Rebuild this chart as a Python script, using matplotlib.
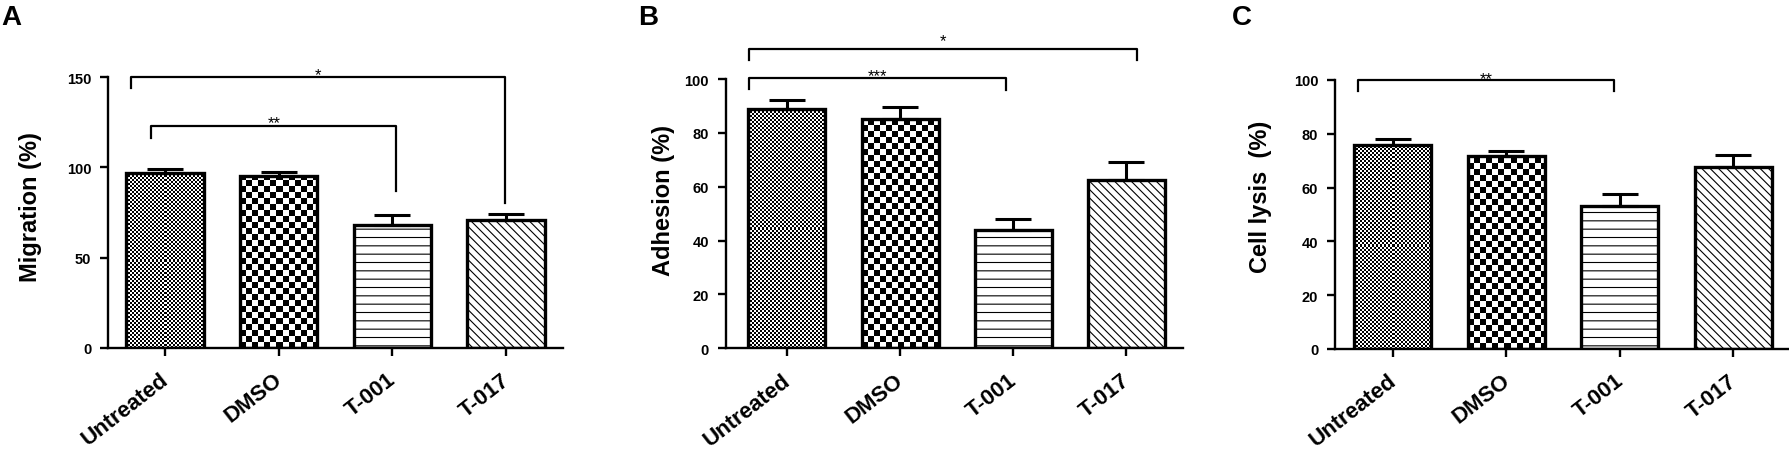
import numpy as np
import matplotlib
matplotlib.use("Agg")
import matplotlib.pyplot as plt
from matplotlib.transforms import ScaledTranslation

plt.rcParams['font.family'] = ['Liberation Sans', 'DejaVu Sans']
plt.rcParams['hatch.linewidth'] = 0.8

# ---- data ----
groups = ["Untreated", "DMSO", "T-001", "T-017"]

migration = [97, 95, 68, 71]
migration_err = [2.0, 2.5, 5.5, 3.3]

adhesion = [88.9, 85.1, 43.8, 62.6]
adhesion_err = [3.2, 4.6, 4.2, 6.5]

lysis = [75.9, 71.7, 53.0, 67.8]
lysis_err = [2.3, 1.9, 4.6, 4.3]

# brackets: (x_left, x_right, y_top, y_left_end, y_right_end, stars, star_y)
brackets_a = [(-0.295, 2.99, 150, 144, 80, "*", 154),
              (-0.118, 2.035, 123, 116, 87, "**", 127.7)]
brackets_b = [(-0.33, 3.09, 111.1, 107, 107.2, "*", 116.3),
              (-0.33, 1.94, 100.2, 96.3, 96, "***", 103.1)]
brackets_c = [(-0.305, 1.95, 100, 95.8, 95.8, "**", 102.5)]

W, H = 1790, 456
fig = plt.figure(figsize=(W / 100, H / 100), dpi=100)

fills = ["fine", "coarse", "--", "\\\\\\\\"]


def checker(ax, bar, cell):
    x0, y0 = bar.get_x(), bar.get_y()
    w, h = bar.get_width(), bar.get_height()
    (px0, py0), (px1, py1) = ax.transData.transform([(x0, y0), (x0 + w, y0 + h)])
    nx, ny = int(round(px1 - px0)), int(round(py1 - py0))
    jj, ii = np.meshgrid(np.arange(nx), np.arange(ny))
    img = ((ii // cell + jj // cell) % 2).astype(float)
    im = ax.imshow(img, cmap="gray", vmin=0, vmax=1, origin="lower",
                   extent=(x0, x0 + w, y0, y0 + h), interpolation="nearest",
                   aspect="auto", zorder=1)
    im.set_clip_path(bar)


def panel(rect, values, errs, ylim, yticks, ylabel, label_xy, brackets, xlim):
    ax = fig.add_axes(rect)
    ax.set_xlim(*xlim)
    ax.set_ylim(0, ylim)
    x = np.arange(len(groups))
    bars = ax.bar(x, values, width=0.68, facecolor="none", edgecolor="black",
                  linewidth=2.4, zorder=2)
    for b, f in zip(bars, fills):
        if f == "fine":
            checker(ax, b, 2)
        elif f == "coarse":
            checker(ax, b, 6)
        else:
            b.set_hatch(f)
    ax.errorbar(x, values, yerr=[np.zeros(len(x)), errs], fmt="none",
                ecolor="black", elinewidth=2.2, capsize=13, capthick=2.2, zorder=3)
    ax.set_xlim(*xlim)
    ax.set_ylim(0, ylim)

    for s in ["top", "right"]:
        ax.spines[s].set_visible(False)
    for s in ["left", "bottom"]:
        ax.spines[s].set_linewidth(1.7)

    ax.set_yticks(yticks)
    ax.set_yticklabels([str(t) for t in yticks], fontsize=10.5, fontweight="bold")
    ax.tick_params(axis="y", length=6, width=1.7, pad=6)
    ax.set_xticks(x)
    ax.set_xticklabels(groups, rotation=38, ha="right", va="top",
                       rotation_mode="anchor", fontsize=16, fontweight="bold")
    ax.tick_params(axis="x", length=6, width=1.7, pad=9)
    shift = ScaledTranslation(-4 / 72, 0, fig.dpi_scale_trans)
    for lab in ax.get_xticklabels():
        lab.set_transform(lab.get_transform() + shift)

    ax.set_ylabel(ylabel, fontsize=17, fontweight="bold")
    ax.yaxis.set_label_coords(*label_xy)

    for xl, xr, yt, yl, yr, stars, sy in brackets:
        ax.plot([xl, xl, xr, xr], [yl, yt, yt, yr], color="black", lw=1.6,
                clip_on=False, zorder=4)
        ax.annotate(stars, xy=((xl + xr) / 2, sy), xytext=(0, -7),
                    textcoords="offset points", ha="center", va="baseline",
                    fontsize=12, annotation_clip=False)
    return ax


panel([108 / W, 107 / H, 455 / W, 271 / H], migration, migration_err, 150,
      [0, 50, 100, 150], "Migration (%)", (-0.145, 0.524), brackets_a, (-0.5, 3.5))
panel([725.7 / W, 106.7 / H, 457.3 / W, 269.3 / H], adhesion, adhesion_err, 100,
      [0, 20, 40, 60, 80, 100], "Adhesion (%)", (-0.111, 0.554), brackets_b, (-0.54, 3.5))
panel([1335 / W, 106 / H, 455 / W, 269 / H], lysis, lysis_err, 100,
      [0, 20, 40, 60, 80, 100], "Cell lysis  (%)", (-0.138, 0.569), brackets_c, (-0.51, 3.5))

for letter, px in [("A", 1), ("B", 638), ("C", 1232)]:
    fig.text(px / W, 1 - 25 / H, letter, fontsize=20, fontweight="bold",
             ha="left", va="baseline")

fig.savefig("out.png", dpi=100)
